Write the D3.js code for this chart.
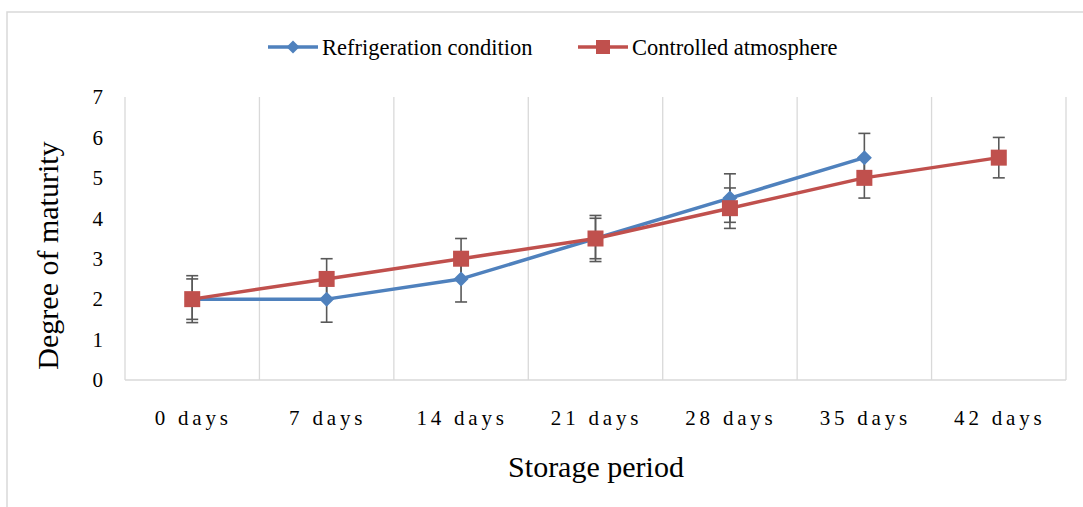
<!DOCTYPE html>
<html>
<head>
<meta charset="utf-8">
<script src="https://cdn.jsdelivr.net/npm/d3@7"></script>
<style>
  html, body { margin: 0; padding: 0; background: #fff; }
  svg { display: block; }
  text { font-family: "Liberation Serif", "Times New Roman", serif; fill: #000; }
</style>
</head>
<body>
<svg id="chart" width="1083" height="507"></svg>
<script>
const categories = ["0 days", "7 days", "14 days", "21 days", "28 days", "35 days", "42 days"];
const refrigeration = [2, 2, 2.5, 3.5, 4.5, 5.5, null];
const refrigerationErr = [0.58, 0.57, 0.57, 0.57, 0.6, 0.6, null];
const controlled = [2, 2.5, 3, 3.5, 4.25, 5, 5.5];
const controlledErr = [0.5, 0.5, 0.5, 0.5, 0.5, 0.5, 0.5];
const yTicks = [0, 1, 2, 3, 4, 5, 6, 7];
const seriesNames = ["Refrigeration condition", "Controlled atmosphere"];

(function () {
const svg = d3.select("#chart");
const W = 1083, H = 507;
const pLeft = 125, pRight = 1066, pTop = 97, pBottom = 380;

// outer frame
svg.append("rect").attr("x", 7).attr("y", 12).attr("width", W + 10).attr("height", H + 10)
  .attr("fill", "none").attr("stroke", "#d9d9d9").attr("stroke-width", 1.5);

const x = d3.scaleBand().domain(categories).range([pLeft, pRight]).padding(0);
const y = d3.scaleLinear().domain([0, 7]).range([pBottom, pTop]);

// vertical gridlines at category boundaries
const bounds = categories.map(c => x(c)).concat([x(categories[categories.length - 1]) + x.bandwidth()]);
svg.append("g").selectAll("line").data(bounds).join("line")
  .attr("x1", d => d).attr("x2", d => d).attr("y1", pTop).attr("y2", pBottom)
  .attr("stroke", "#d9d9d9").attr("stroke-width", 1.3);

// bottom axis line
svg.append("line").attr("x1", pLeft).attr("x2", pRight).attr("y1", pBottom).attr("y2", pBottom)
  .attr("stroke", "#d9d9d9").attr("stroke-width", 1.3);

// y tick labels
svg.append("g").selectAll("text").data(yTicks).join("text")
  .attr("x", 103).attr("y", d => y(d)).attr("dy", "0.35em")
  .attr("text-anchor", "end").attr("font-size", 21).text(d => d);

// x tick labels
svg.append("g").selectAll("text").data(categories).join("text")
  .attr("x", d => x(d) + x.bandwidth() / 2 + 1).attr("y", 418).attr("dy", "0.35em")
  .attr("text-anchor", "middle").attr("font-size", 21).attr("letter-spacing", "3.8px")
  .text(d => d);

// axis titles
svg.append("text").attr("x", 596).attr("y", 466).attr("dy", "0.35em")
  .attr("text-anchor", "middle").attr("font-size", 30).text("Storage period");
svg.append("text").attr("transform", `translate(47,${(pTop + pBottom) / 2 + 17}) rotate(-90)`)
  .attr("dy", "0.35em").attr("text-anchor", "middle").attr("font-size", 30).text("Degree of maturity");

const cx = c => x(c) + x.bandwidth() / 2;
const blue = "#4F81BD", red = "#C0504D", errC = "#595959";
const diamondPath = r => `M0,${-r}L${r},0L0,${r}L${-r},0Z`;

function drawErr(vals, errs) {
  const data = categories.map((c, i) => ({ c, v: vals[i], e: errs[i] })).filter(d => d.v != null);
  const g = svg.append("g").attr("stroke", errC).attr("stroke-width", 1.6);
  data.forEach(d => {
    const x0 = cx(d.c);
    g.append("line").attr("x1", x0).attr("x2", x0).attr("y1", y(d.v + d.e)).attr("y2", y(d.v - d.e));
    [d.v + d.e, d.v - d.e].forEach(t => {
      g.append("line").attr("x1", x0 - 6).attr("x2", x0 + 6).attr("y1", y(t)).attr("y2", y(t));
    });
  });
}

function drawLine(vals, color) {
  const data = categories.map((c, i) => ({ c, v: vals[i] })).filter(d => d.v != null);
  const line = d3.line().x(d => cx(d.c)).y(d => y(d.v));
  svg.append("path").datum(data).attr("d", line).attr("fill", "none")
    .attr("stroke", color).attr("stroke-width", 3.5).attr("stroke-linejoin", "round");
  return data;
}

drawErr(refrigeration, refrigerationErr);
drawErr(controlled, controlledErr);

const bData = drawLine(refrigeration, blue);
const rData = drawLine(controlled, red);

svg.append("g").selectAll("path").data(bData).join("path")
  .attr("transform", d => `translate(${cx(d.c)},${y(d.v)})`)
  .attr("d", diamondPath(7.5)).attr("fill", blue);

svg.append("g").selectAll("rect").data(rData).join("rect")
  .attr("x", d => cx(d.c) - 8).attr("y", d => y(d.v) - 8).attr("width", 16).attr("height", 16)
  .attr("fill", red);

// legend
const legend = [
  { name: seriesNames[0], color: blue, x0: 268, type: "diamond" },
  { name: seriesNames[1], color: red, x0: 578, type: "square" }
];
const ly = 47;
legend.forEach(l => {
  svg.append("line").attr("x1", l.x0).attr("x2", l.x0 + 50).attr("y1", ly).attr("y2", ly)
    .attr("stroke", l.color).attr("stroke-width", 3.5);
  if (l.type === "diamond") {
    svg.append("path").attr("transform", `translate(${l.x0 + 25},${ly})`)
      .attr("d", diamondPath(6.5)).attr("fill", l.color);
  } else {
    svg.append("rect").attr("x", l.x0 + 18).attr("y", ly - 7).attr("width", 14).attr("height", 14)
      .attr("fill", l.color);
  }
  svg.append("text").attr("x", l.x0 + 54).attr("y", ly).attr("dy", "0.35em")
    .attr("font-size", 22.5).text(l.name);
});
})();
</script>
</body>
</html>
